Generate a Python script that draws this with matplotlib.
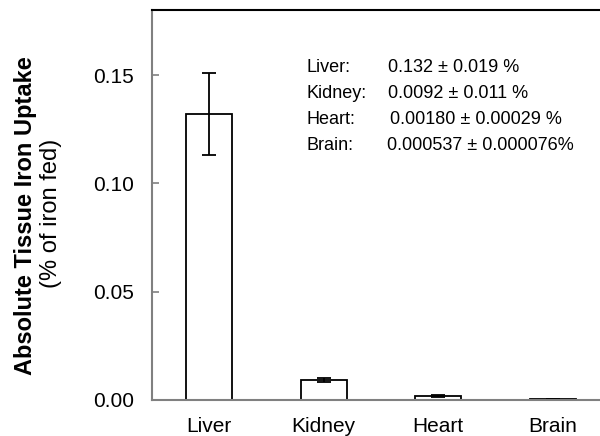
import matplotlib.pyplot as plt

plt.rcParams['font.family'] = ['Liberation Sans', 'DejaVu Sans']

tissues = ["Liver", "Kidney", "Heart", "Brain"]
uptake = [0.132, 0.0092, 0.00180, 0.000537]
uptake_err = [0.019, 0.0011, 0.00029, 0.000076]
summary_names = ["Liver:", "Kidney:", "Heart:", "Brain:"]
summary_values = ["0.132 \u00b1 0.019 %", "0.0092 \u00b1 0.011 %",
                  "0.00180 \u00b1 0.00029 %", "0.000537 \u00b1 0.000076%"]
yticks = [0.00, 0.05, 0.10, 0.15]

fig = plt.figure(figsize=(6, 4.36), dpi=100)
# axes run slightly past the right edge of the figure
ax = fig.add_axes([0.2533, 0.0826, 0.7634, 0.8944])

x = range(len(tissues))
ax.bar(x, uptake, width=0.4, color="white", edgecolor="black", linewidth=1.3,
       yerr=uptake_err, error_kw=dict(ecolor="black", elinewidth=1.3,
                                      capsize=5, capthick=1.3))

ax.set_xlim(-0.5, 3.5)
ax.set_ylim(0, 0.18)
ax.set_xticks(list(x))
ax.set_xticklabels(tissues, fontsize=15)
ax.tick_params(axis="x", length=0, pad=12)
ax.set_yticks(yticks)
ax.set_yticklabels([f"{v:.2f}" for v in yticks], fontsize=15)
ax.tick_params(axis="y", direction="in", length=5, width=1.2, color="#808080", pad=13)

ax.spines["left"].set_color("#808080")
ax.spines["bottom"].set_color("#808080")
ax.spines["left"].set_linewidth(1.5)
ax.spines["bottom"].set_linewidth(1.5)
ax.spines["top"].set_linewidth(1.5)
ax.spines["right"].set_visible(False)

fig.text(26 / 600, 1 - 216 / 436, "Absolute Tissue Iron Uptake", rotation=90,
         fontsize=17, fontweight="bold", ha="center", va="center")
fig.text(51 / 600, 1 - 213 / 436, "(% of iron fed)", rotation=90,
         fontsize=17, ha="center", va="center")

row_y = [67, 93, 120, 146]
value_x = [388, 388, 390, 387]
for name, val, yy, vx in zip(summary_names, summary_values, row_y, value_x):
    fig.text(307 / 600, 1 - yy / 436, name, fontsize=13, ha="left", va="center")
    fig.text(vx / 600, 1 - yy / 436, val, fontsize=13, ha="left", va="center")

fig.savefig("out.png", dpi=100)
